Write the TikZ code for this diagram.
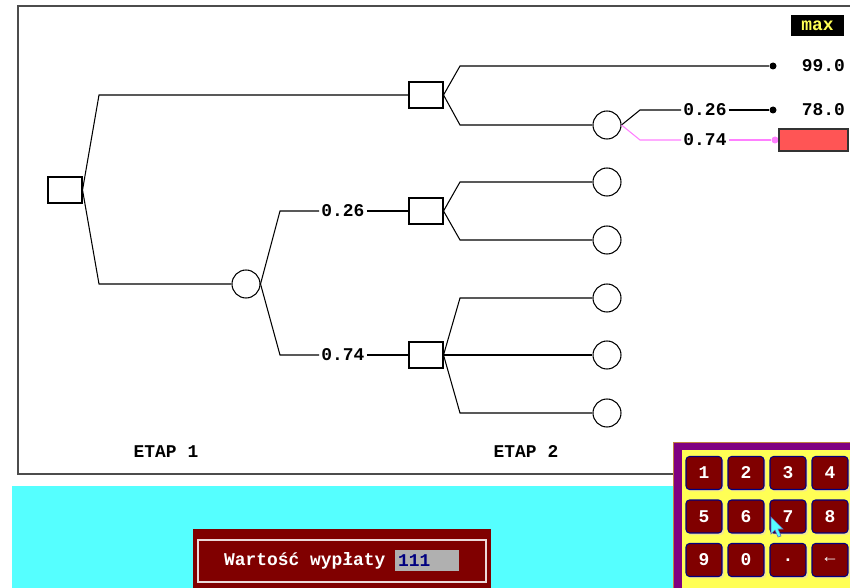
\documentclass[tikz,border=0pt]{standalone}
\usepackage{fontspec}
\setmonofont{Liberation Mono}
\usetikzlibrary{positioning}

\definecolor{dosred}{HTML}{800000}
\definecolor{doscyan}{HTML}{55FFFF}
\definecolor{dosyellow}{HTML}{FFFF55}
\definecolor{dospurple}{HTML}{800080}
\definecolor{dosnavy}{HTML}{000080}
\definecolor{dospink}{HTML}{FF80FF}
\definecolor{doslightred}{HTML}{FF5555}
\definecolor{dosgrey}{HTML}{B0B0B0}
\definecolor{dosbrown}{HTML}{C08040}

\newcommand{\dosfont}{\fontsize{10.2}{12}\selectfont\ttfamily\bfseries}

\tikzset{
  decision/.style={draw, rectangle, minimum width=0.68cm, minimum height=0.52cm, inner sep=0pt},
  chance/.style={draw, circle, minimum size=0.56cm, inner sep=0pt},
  enddot/.style={fill, circle, minimum size=0.14cm, inner sep=0pt},
  dos/.style={font=\dosfont, inner sep=2pt},
  prob/.style={font=\dosfont, inner sep=1pt},
  pinkline/.style={draw=dospink},
  keybtn/.style={font=\dosfont, text=white, fill=dosred, draw=dosnavy, rounded corners=2pt,
    minimum width=0.72cm, minimum height=0.66cm, inner sep=0pt},
  keyshadow/.style={fill=dosyellow!50!white!80!dosbrown, rounded corners=2pt,
    minimum width=0.72cm, minimum height=0.66cm, inner sep=0pt}
}

\begin{document}
\begin{tikzpicture}[x=0.02cm, y=-0.02cm, line width=0.6pt]
  \useasboundingbox (0,0) rectangle (850,588);
  \clip (0,0) rectangle (850,588);
  \fill[white] (0,0) rectangle (850,588);

  % screen areas
  \draw[black!70, line width=0.8pt] (18,6) rectangle (870,474);
  \fill[doscyan] (12,486) rectangle (860,600);

  % tree nodes
  \node[decision] (d0) at (65,190) {};
  \node[decision] (d1) at (426,95) {};
  \node[chance]   (c1) at (246,284) {};
  \node[decision] (d2) at (426,211) {};
  \node[decision] (d3) at (426,355) {};
  \node[chance]   (c2) at (607,125) {};
  \node[chance]   (c3) at (607,182) {};
  \node[chance]   (c4) at (607,240) {};
  \node[chance]   (c5) at (607,298) {};
  \node[chance]   (c6) at (607,355) {};
  \node[chance]   (c7) at (607,413) {};

  \node[enddot] (e1) at (773,66) {};
  \node[enddot] (e2) at (773,110) {};
  \node[enddot, dospink] (e3) at (775,140) {};

  \node[dos, anchor=east] (v1) at (849,66) {99.0};
  \node[dos, anchor=east] (v2) at (849,110) {78.0};
  \node[draw=black!80, fill=doslightred, minimum width=1.38cm, minimum height=0.44cm, inner sep=0pt] (v3) at (813.5,140) {};

  \node[prob] (p1) at (343,211) {0.26};
  \node[prob] (p2) at (343,355) {0.74};
  \node[prob] (p3) at (705,110) {0.26};
  \node[prob] (p4) at (705,140) {0.74};

  \node[font=\dosfont, text=dosyellow, fill=black, minimum width=1.06cm, minimum height=0.42cm, inner sep=0pt] (maxlbl) at (817.5,25.5) {max};

  \node[dos] (etap1) at (166,452) {ETAP 1};
  \node[dos] (etap2) at (526,452) {ETAP 2};

  % branches
  \draw (d0.east) -- (99,95) -- (d1.west);
  \draw (d0.east) -- (99,284) -- (c1.west);
  \draw (d1.east) -- (460,66) -- (e1);
  \draw (d1.east) -- (460,125) -- (c2.west);
  \draw (c1.east) -- (280,211) -- (p1.west);
  \draw (p1.east) -- (d2.west);
  \draw (c1.east) -- (280,355) -- (p2.west);
  \draw (p2.east) -- (d3.west);
  \draw (c2.east) -- (640,110) -- (p3.west);
  \draw (p3.east) -- (e2);
  \draw[pinkline] (c2.east) -- (640,140) -- (p4.west);
  \draw[pinkline] (p4.east) -- (e3);
  \draw (d2.east) -- (460,182) -- (c3.west);
  \draw (d2.east) -- (460,240) -- (c4.west);
  \draw (d3.east) -- (460,298) -- (c5.west);
  \draw (d3.east) -- (c6.west);
  \draw (d3.east) -- (460,413) -- (c7.west);

  % payoff entry box
  \fill[dosred] (193,529) rectangle (491,600);
  \draw[white!85!dosred] (198,540) rectangle (486,582);
  \node[dos, text=white, anchor=west] (entrylbl) at (220,561) {Wartość wypłaty};
  \fill[dosgrey] (395,550) rectangle (459,571);
  \node[dos, text=dosnavy, anchor=west] (entryval) at (394,561) {111};

  % keypad
  \filldraw[fill=dospurple, draw=dosbrown] (673.5,442.5) rectangle (870,600);
  \fill[dosyellow] (682,450) rectangle (870,600);
  \foreach \lbl [count=\n from 0] in {1,2,3,4,5,6,7,8,9,0,.,←} {
    \pgfmathtruncatemacro\col{mod(\n,4)}
    \pgfmathtruncatemacro\row{\n/4}
    \node[keyshadow] at ({706+42*\col},{475+43.5*\row}) {};
    \node[keybtn] (key\n) at ({704+42*\col},{473+43.5*\row}) {\lbl};
  }

  % mouse pointer
  \filldraw[fill=doscyan, draw=dosnavy!60, line width=0.3pt]
    (771,517) -- (771,534) -- (775,530) -- (778,537) -- (781,536) -- (778,529) -- (783,529) -- cycle;
\end{tikzpicture}
\end{document}
